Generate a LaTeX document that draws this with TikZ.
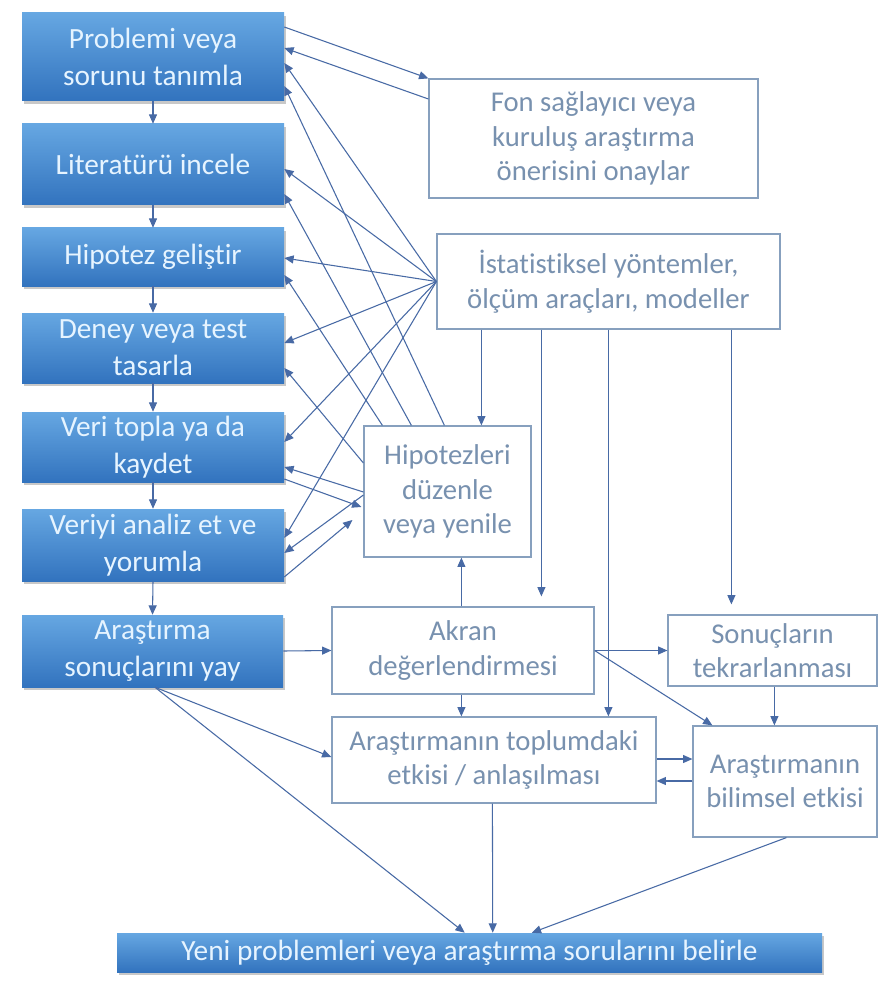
\documentclass[tikz,border=0pt]{standalone}
\usepackage{fontspec}
\setmainfont{Carlito}[Ligatures=NoCommon]
\usetikzlibrary{arrows.meta,calc,shadows}
\definecolor{arrc}{RGB}{72,106,165}
\definecolor{bordc}{RGB}{135,160,190}
\definecolor{txtc}{RGB}{120,145,175}
\definecolor{btop}{RGB}{102,167,226}
\definecolor{bbot}{RGB}{50,115,190}
\definecolor{btxt}{RGB}{230,244,255}
\begin{document}
\begin{tikzpicture}[x=0.75pt,y=-0.75pt,
  sz/.style 2 args={minimum width=#1*0.75pt, minimum height=#2*0.75pt},
  bluebox/.style={rectangle, top color=btop, bottom color=bbot, draw=none, text=btxt,
    align=center, font=\fontsize{22}{27.5}\selectfont, inner sep=0pt,
    drop shadow={shadow xshift=1.5pt, shadow yshift=-2pt, opacity=0.3, fill=black!70}},
  whitebox/.style={rectangle, draw=bordc, line width=0.9pt, fill=white, text=txtc,
    align=center, font=\fontsize{21.5}{26}\selectfont, inner sep=0pt},
  arr/.style={draw=arrc, line width=0.8pt, -{Triangle[length=7pt,width=6pt]}, arrc}]
\fill[white] (0,0) rectangle (879,984);
\useasboundingbox (0,0) rectangle (879,984);

% left column
\node[bluebox, sz={262}{88}] (B1) at (153,57) {Problemi veya\\sorunu tanımla};
\node[bluebox, sz={262}{81}] (B2) at (153,164.5) {Literatürü incele};
\node[bluebox, sz={262}{58}] (B3) at (153,257) {Hipotez geliştir};
\node[bluebox, sz={262}{70}] (B4) at (153,348) {Deney veya test\\tasarla};
\node[bluebox, sz={262}{70}] (B5) at (153,447) {Veri topla ya da\\kaydet};
\node[bluebox, sz={262}{72}] (B6) at (153,545) {Veriyi analiz et ve\\yorumla};
\node[bluebox, sz={261}{72}] (B7) at (152.5,651) {Araştırma\\sonuçlarını yay};
\node[bluebox, sz={705}{39}] (Bot) at (469.5,952.5) {Yeni problemleri veya araştırma sorularını belirle};

% white boxes
\node[whitebox, sz={329}{119}] (Fon) at (593.5,138.5) {Fon sağlayıcı veya\\kuruluş araştırma\\önerisini onaylar};
\node[whitebox, sz={343}{95}] (Ist) at (608.5,281.5) {İstatistiksel yöntemler,\\ölçüm araçları, modeller};
\node[whitebox, sz={167}{131}] (Hip) at (447.5,491.5) {Hipotezleri\\düzenle\\veya yenile};
\node[whitebox, sz={262}{87}] (Akr) at (463,650.5) {Akran\\değerlendirmesi};
\node[whitebox, sz={209}{71}] (Son) at (772.5,650.5) {Sonuçların\\tekrarlanması};
\node[whitebox, sz={324}{86}] (Top) at (494,760) {Araştırmanın toplumdaki\\etkisi / anlaşılması};
\node[whitebox, sz={184}{111}] (Bil) at (785,781.5) {Araştırmanın\\bilimsel etkisi};

% chain
\foreach \a/\b in {B1/B2,B2/B3,B3/B4,B4/B5,B5/B6,B6/B7}
  \draw[arr] (\a.south) -- (\b.north);

% Fon
\draw[arr] ($(B1.east)+(0,-30)$) -- (Fon.north west);
\draw[arr] ($(Fon.west)+(0,-39.5)$) -- ($(B1.east)+(0,-9)$);

% Istatistiksel to left column
\foreach \b/\o in {B1/6, B2/4.5, B3/1, B4/-5, B5/-5, B6/-7}
  \draw[arr] (Ist.west) -- ($(\b.east)+(0,\o)$);

% Hipotezleri to/from left column
\draw[arr] ($(Hip.north west)+(81,0)$) -- ($(B1.east)+(0,29)$);
\draw[arr] ($(Hip.north west)+(48,0)$) -- ($(B2.east)+(0,29.5)$);
\draw[arr] ($(Hip.north west)+(19,0)$) -- ($(B3.east)+(0,18)$);
\draw[arr] ($(Hip.west)+(0,-28.5)$) -- ($(B4.east)+(0,20)$);
\draw[arr] ($(Hip.west)+(0,0.5)$) -- ($(B5.east)+(0,20)$);
\draw[arr] ($(B5.east)+(0,32)$) -- ($(Hip.west)+(-2,15.5)$);
\draw[arr] ($(Hip.west)+(0,3.5)$) -- ($(B6.east)+(0,8)$);
\draw[arr] ($(B6.east)+(0,32)$) -- ($(Hip.west)+(-11,28.5)$);

% Istatistiksel downward
\draw[arr] ($(Ist.south west)+(45,0)$) -- ($(Hip.north west)+(118,0)$);
\draw[arr, shorten >=7.5pt] ($(Ist.south west)+(105,0)$) -- ($(Akr.north west)+(210,0)$);
\draw[arr] ($(Ist.south west)+(172,0)$) -- ($(Top.north west)+(277,0)$);
\draw[arr, shorten >=7.5pt] ($(Ist.south west)+(295,0)$) -- ($(Son.north west)+(64,0)$);

% lower part
\draw[arr] ($(Akr.north west)+(130,0)$) -- ($(Hip.south west)+(98,0)$);
\draw[arr] ($(Akr.south west)+(130,0)$) -- ($(Top.north west)+(130,0)$);
\draw[arr] (B7.east) -- (Akr.west);
\draw[arr] (Akr.east) -- (Son.west);
\draw[arr] (Akr.east) -- ($(Bil.north west)+(20,0)$);
\draw[arr] ($(Son.south west)+(107,0)$) -- ($(Bil.north west)+(82,0)$);
\draw[arr] ($(Top.east)+(0,-1)$) -- ($(Bil.west)+(0,-22.5)$);
\draw[arr] ($(Bil.west)+(0,-0.5)$) -- ($(Top.east)+(0,21)$);
\draw[arr] ($(B7.south)+(2.5,0)$) -- ($(Top.west)+(0,-3)$);
\draw[arr] ($(B7.south)+(2.5,0)$) -- ($(Bot.north west)+(348,0)$);
\draw[arr] ($(Top.south west)+(161,0)$) -- ($(Bot.north west)+(376,0)$);
\draw[arr] ($(Bil.south west)+(94,0)$) -- ($(Bot.north west)+(415,0)$);
\end{tikzpicture}
\end{document}
